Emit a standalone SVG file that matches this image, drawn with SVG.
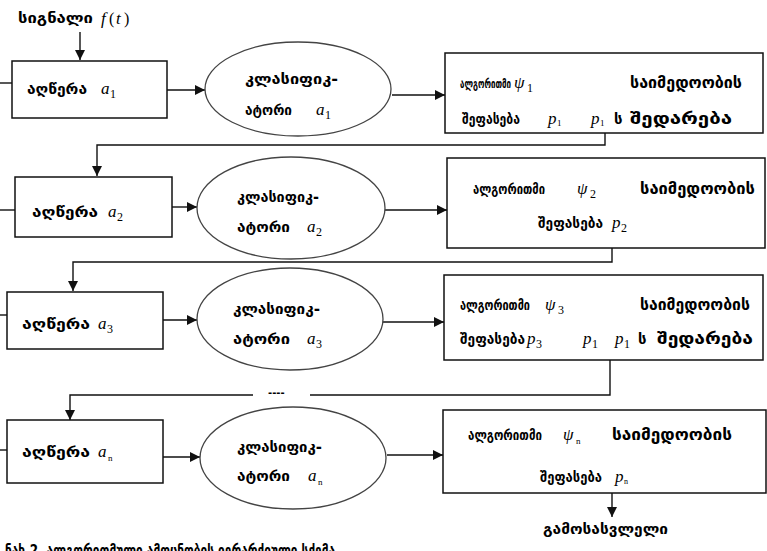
<svg xmlns="http://www.w3.org/2000/svg" width="767" height="551" viewBox="0 0 767 551">
  <style>
    .box { fill: #fff; stroke: #111; stroke-width: 1.5; }
    .ell { fill: #fff; stroke: #444; stroke-width: 1.3; }
    .ln { fill: none; stroke: #111; stroke-width: 1.4; }
    .ka { font-family: "DejaVu Sans", "Noto Sans", sans-serif; font-weight: bold; font-size: 15px; fill: #000; }
    .wide { font-size: 16px; }
    .m { font-family: "Liberation Serif", serif; font-style: italic; font-size: 17px; fill: #000; }
    .sub { font-family: "Liberation Serif", serif; font-style: normal; font-size: 12px; }
    .tiny { font-size: 9px; }
  </style>
  <defs>
    <marker id="ah" viewBox="0 0 10 10" refX="10" refY="5" markerWidth="10" markerHeight="10" markerUnits="userSpaceOnUse" orient="auto">
      <path d="M0,0 L10,5 L0,10 z" fill="#111"/>
    </marker>
  </defs>
  <rect width="767" height="551" fill="#fff"/>

  <!-- input signal label -->
  <g id="signal">
    <text class="ka" x="18" y="23" textLength="75" lengthAdjust="spacingAndGlyphs">სიგნალი</text>
    <text class="m" x="101" y="24">f<tspan class="sub" x="109" style="font-size:16px">(</tspan><tspan x="116">t</tspan><tspan class="sub" x="124" style="font-size:16px">)</tspan></text>
  </g>

  <!-- connectors -->
  <g id="connectors">
    <line class="ln" x1="80" y1="32" x2="80" y2="60" marker-end="url(#ah)"/>
    <line class="ln" x1="0" y1="83" x2="12" y2="83"/>
    <line class="ln" x1="167" y1="90" x2="205" y2="90" marker-end="url(#ah)"/>
    <line class="ln" x1="392" y1="95" x2="445" y2="95" marker-end="url(#ah)"/>
    <polyline class="ln" points="605,133 605,145 97,145 97,176" marker-end="url(#ah)"/>

    <line class="ln" x1="0" y1="210" x2="15" y2="210"/>
    <line class="ln" x1="172" y1="207" x2="197" y2="207" marker-end="url(#ah)"/>
    <line class="ln" x1="385" y1="210" x2="447" y2="210" marker-end="url(#ah)"/>
    <polyline class="ln" points="612,248 612,262 73,262 73,291" marker-end="url(#ah)"/>

    <line class="ln" x1="0" y1="315" x2="7" y2="315"/>
    <line class="ln" x1="163" y1="320" x2="197" y2="320" marker-end="url(#ah)"/>
    <line class="ln" x1="383" y1="322" x2="444" y2="322" marker-end="url(#ah)"/>
    <polyline class="ln" points="610,360 610,395 310,395"/>
    <polyline class="ln" points="253,395 70,395 70,420" marker-end="url(#ah)"/>
    <text class="ka" x="268" y="396" style="font-size:10px">----</text>

    <line class="ln" x1="0" y1="450" x2="7" y2="450"/>
    <line class="ln" x1="163" y1="457" x2="200" y2="457" marker-end="url(#ah)"/>
    <line class="ln" x1="387" y1="455" x2="443" y2="455" marker-end="url(#ah)"/>
    <line class="ln" x1="612" y1="493" x2="612" y2="517" marker-end="url(#ah)"/>
  </g>

  <!-- row 1 -->
  <g id="desc1">
    <rect class="box" x="12" y="61" width="155" height="57"/>
    <text class="ka" x="27" y="94" textLength="60" lengthAdjust="spacingAndGlyphs">აღწერა</text>
    <text class="m" x="101" y="94">a<tspan class="sub" x="110" y="98">1</tspan></text>
  </g>
  <g id="clf1">
    <ellipse class="ell" cx="298" cy="89" rx="93" ry="47"/>
    <text class="ka" x="245" y="84" textLength="93" lengthAdjust="spacingAndGlyphs">კლასიფიკ-</text>
    <text class="ka" x="245" y="115" textLength="47" lengthAdjust="spacingAndGlyphs">ატორი</text>
    <text class="m" x="316" y="115">a<tspan class="sub" x="325" y="119">1</tspan></text>
  </g>
  <g id="alg1">
    <rect class="box" x="445" y="53" width="318" height="80"/>
    <text class="ka" x="460" y="88" style="font-size:11.5px" textLength="51" lengthAdjust="spacingAndGlyphs">ალგორითმი</text>
    <text class="m" x="514" y="88">ψ<tspan class="sub" x="527" y="92">1</tspan></text>
    <text class="ka wide" x="630" y="88" textLength="112" lengthAdjust="spacingAndGlyphs">საიმედოობის</text>
    <text class="ka" x="462" y="124" textLength="58" lengthAdjust="spacingAndGlyphs">შეფასება</text>
    <text class="m" x="548" y="124">p<tspan class="sub tiny" x="557" y="126">1</tspan></text>
    <text class="m" x="591" y="124">p<tspan class="sub tiny" x="600" y="126">1</tspan></text>
    <text class="ka" x="614" y="124">ს</text>
    <text class="ka wide" x="630" y="124" textLength="102" lengthAdjust="spacingAndGlyphs">შედარება</text>
  </g>

  <!-- row 2 -->
  <g id="desc2">
    <rect class="box" x="15" y="177" width="157" height="60"/>
    <text class="ka" x="32" y="217" textLength="66" lengthAdjust="spacingAndGlyphs">აღწერა</text>
    <text class="m" x="108" y="217">a<tspan class="sub" x="117" y="221">2</tspan></text>
  </g>
  <g id="clf2">
    <ellipse class="ell" cx="291" cy="208" rx="94" ry="51"/>
    <text class="ka" x="237" y="202" textLength="82" lengthAdjust="spacingAndGlyphs">კლასიფიკ-</text>
    <text class="ka" x="237" y="232" textLength="53" lengthAdjust="spacingAndGlyphs">ატორი</text>
    <text class="m" x="307" y="232">a<tspan class="sub" x="316" y="236">2</tspan></text>
  </g>
  <g id="alg2">
    <rect class="box" x="447" y="158" width="318" height="90"/>
    <text class="ka" x="473" y="194" textLength="72" lengthAdjust="spacingAndGlyphs">ალგორითმი</text>
    <text class="m" x="577" y="194">ψ<tspan class="sub" x="590" y="198">2</tspan></text>
    <text class="ka wide" x="640" y="194" textLength="115" lengthAdjust="spacingAndGlyphs">საიმედოობის</text>
    <text class="ka" x="538" y="228" textLength="65" lengthAdjust="spacingAndGlyphs">შეფასება</text>
    <text class="m" x="612" y="228">p<tspan class="sub" x="621" y="232">2</tspan></text>
  </g>

  <!-- row 3 -->
  <g id="desc3">
    <rect class="box" x="7" y="292" width="156" height="57"/>
    <text class="ka" x="22" y="329" textLength="68" lengthAdjust="spacingAndGlyphs">აღწერა</text>
    <text class="m" x="98" y="329">a<tspan class="sub" x="107" y="333">3</tspan></text>
  </g>
  <g id="clf3">
    <ellipse class="ell" cx="290" cy="319" rx="93" ry="51"/>
    <text class="ka" x="233" y="314" textLength="87" lengthAdjust="spacingAndGlyphs">კლასიფიკ-</text>
    <text class="ka" x="233" y="344" textLength="57" lengthAdjust="spacingAndGlyphs">ატორი</text>
    <text class="m" x="307" y="344">a<tspan class="sub" x="316" y="348">3</tspan></text>
  </g>
  <g id="alg3">
    <rect class="box" x="444" y="275" width="319" height="85"/>
    <text class="ka" x="460" y="310" textLength="70" lengthAdjust="spacingAndGlyphs">ალგორითმი</text>
    <text class="m" x="545" y="310">ψ<tspan class="sub" x="558" y="314">3</tspan></text>
    <text class="ka wide" x="640" y="310" textLength="110" lengthAdjust="spacingAndGlyphs">საიმედოობის</text>
    <text class="ka" x="460" y="344" textLength="65" lengthAdjust="spacingAndGlyphs">შეფასება</text>
    <text class="m" x="527" y="344">p<tspan class="sub" x="536" y="348">3</tspan></text>
    <text class="m" x="583" y="344">p<tspan class="sub" x="592" y="348">1</tspan></text>
    <text class="m" x="615" y="344">p<tspan class="sub" x="624" y="348">1</tspan></text>
    <text class="ka" x="638" y="344">ს</text>
    <text class="ka wide" x="657" y="344" textLength="96" lengthAdjust="spacingAndGlyphs">შედარება</text>
  </g>

  <!-- row n -->
  <g id="descN">
    <rect class="box" x="7" y="420" width="156" height="63"/>
    <text class="ka" x="22" y="457" textLength="68" lengthAdjust="spacingAndGlyphs">აღწერა</text>
    <text class="m" x="98" y="457">a<tspan class="sub tiny" x="108" y="461">n</tspan></text>
  </g>
  <g id="clfN">
    <ellipse class="ell" cx="293" cy="458" rx="93" ry="51"/>
    <text class="ka" x="237" y="452" textLength="85" lengthAdjust="spacingAndGlyphs">კლასიფიკ-</text>
    <text class="ka" x="237" y="481" textLength="53" lengthAdjust="spacingAndGlyphs">ატორი</text>
    <text class="m" x="308" y="481">a<tspan class="sub tiny" x="318" y="485">n</tspan></text>
  </g>
  <g id="algN">
    <rect class="box" x="443" y="410" width="323" height="83"/>
    <text class="ka" x="468" y="440" textLength="74" lengthAdjust="spacingAndGlyphs">ალგორითმი</text>
    <text class="m" x="563" y="440">ψ<tspan class="sub tiny" x="576" y="444">n</tspan></text>
    <text class="ka wide" x="612" y="440" textLength="120" lengthAdjust="spacingAndGlyphs">საიმედოობის</text>
    <text class="ka" x="540" y="482" textLength="62" lengthAdjust="spacingAndGlyphs">შეფასება</text>
    <text class="m" x="615" y="482">p<tspan class="sub" x="624" y="484" style="font-size:8px">n</tspan></text>
  </g>

  <!-- output -->
  <g id="output">
    <text class="ka" x="543" y="534" textLength="125" lengthAdjust="spacingAndGlyphs">გამოსასვლელი</text>
  </g>

  <!-- figure caption, running off the lower edge -->
  <g id="caption">
    <text class="ka" x="5" y="556" style="font-size:16px" textLength="330" lengthAdjust="spacingAndGlyphs">ნახ.2. ალგორითმული ამოცნობის იერარქიული სქემა</text>
  </g>
</svg>
